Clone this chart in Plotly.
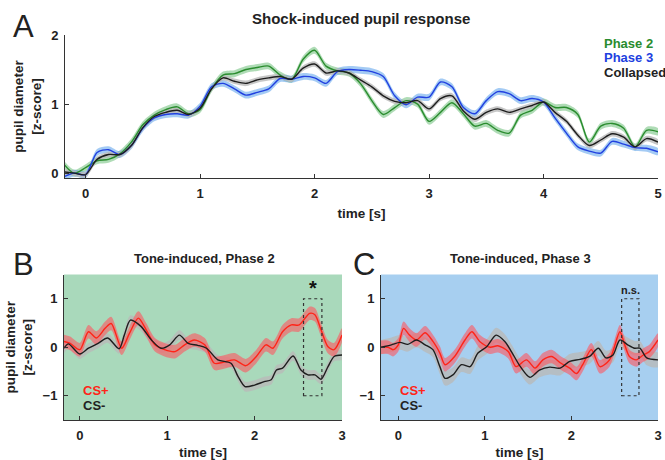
import plotly.graph_objects as go

W, H = 665, 460

# ---------------- Panel A data ----------------
time_a = [-0.2, -0.1, 0.0, 0.1, 0.2, 0.3, 0.4, 0.5, 0.6, 0.7, 0.8, 0.9, 1.0,
          1.1, 1.2, 1.3, 1.4, 1.5, 1.6, 1.7, 1.8, 1.9, 2.0, 2.1, 2.2, 2.3, 2.4,
          2.5, 2.6, 2.7, 2.8, 2.9, 3.0, 3.1, 3.2, 3.3, 3.4, 3.5, 3.6, 3.7, 3.8,
          3.9, 4.0, 4.1, 4.2, 4.3, 4.4, 4.5, 4.6, 4.7, 4.8, 4.9, 5.0]
phase2 = [0.15, 0.0, 0.08, 0.18, 0.2, 0.28, 0.45, 0.7, 0.84, 0.92, 0.96, 0.86, 0.92,
          1.22, 1.42, 1.44, 1.5, 1.53, 1.55, 1.42, 1.36, 1.65, 1.78, 1.55, 1.48, 1.45, 1.3,
          1.05, 0.85, 0.95, 1.05, 1.0, 0.75, 0.88, 1.02, 0.86, 0.68, 0.72, 0.62, 0.58, 0.84,
          0.91, 1.03, 0.95, 0.95, 0.85, 0.45, 0.68, 0.72, 0.65, 0.38, 0.62, 0.6]
phase3 = [-0.06, 0.0, -0.02, 0.3, 0.34, 0.27, 0.4, 0.65, 0.8, 0.85, 0.86, 0.84, 0.97,
          1.25, 1.3, 1.22, 1.13, 1.17, 1.22, 1.37, 1.36, 1.4, 1.38, 1.3, 1.47, 1.5, 1.49,
          1.47, 1.4, 1.12, 0.99, 1.1, 1.1, 1.32, 1.25, 0.95, 0.86, 1.05, 1.18, 1.15, 1.05,
          1.08, 1.03, 0.8, 0.58, 0.38, 0.32, 0.29, 0.46, 0.42, 0.37, 0.36, 0.31]
collapsed = [0.02, 0.0, -0.02, 0.2, 0.27, 0.27, 0.4, 0.66, 0.82, 0.88, 0.91, 0.85, 0.94,
             1.22, 1.38, 1.33, 1.3, 1.35, 1.38, 1.4, 1.36, 1.52, 1.58, 1.45, 1.48, 1.45, 1.35,
             1.25, 1.12, 1.04, 1.02, 1.05, 0.93, 1.08, 1.12, 0.9, 0.78, 0.88, 0.93, 0.88, 0.93,
             0.98, 1.03, 0.88, 0.75, 0.55, 0.4, 0.48, 0.57, 0.52, 0.38, 0.5, 0.45]
sem_phase2 = 0.05
sem_phase3 = 0.05
sem_collapsed = 0.04

# ---------------- Panel B data (Tone-induced, Phase 2) ----------------
b_csplus_t = [-0.18, -0.11, 0.0, 0.1, 0.19, 0.29, 0.36, 0.48, 0.57, 0.67, 0.76, 0.86,
              0.97, 1.09, 1.2, 1.31, 1.43, 1.54, 1.66, 1.77, 1.9, 2.02, 2.13, 2.21,
              2.32, 2.42, 2.51, 2.63, 2.69, 2.76, 2.84, 2.91, 3.0]
b_csplus_v = [0.12, 0.08, -0.05, 0.32, 0.19, 0.39, 0.49, -0.02, 0.29, 0.6, 0.36, 0.05,
              -0.05, -0.09, 0.05, 0.15, 0.05, -0.33, -0.3, -0.26, -0.38, -0.19, 0.05, -0.02,
              0.32, 0.46, 0.46, 0.7, 0.67, 0.36, 0.01, -0.05, 0.25]
b_csminus_t = [-0.18, -0.13, 0.0, 0.1, 0.21, 0.32, 0.45, 0.51, 0.58, 0.7, 0.82, 0.93,
               1.03, 1.14, 1.24, 1.35, 1.45, 1.58, 1.73, 1.81, 1.89, 2.0, 2.11, 2.19,
               2.25, 2.32, 2.44, 2.53, 2.61, 2.69, 2.76, 2.84, 2.91, 3.0]
b_csminus_v = [-0.02, 0.07, -0.14, -0.02, 0.08, 0.19, -0.03, 0.25, 0.56, 0.43, 0.15, -0.02,
               0.05, 0.25, 0.08, 0.04, -0.02, -0.26, -0.33, -0.6, -0.81, -0.78, -0.71, -0.67,
               -0.47, -0.43, -0.18, -0.47, -0.57, -0.57, -0.66, -0.4, -0.19, -0.16]
b_sem_csplus = 0.14
b_sem_csminus = 0.1
b_window = [2.56, 2.77]

# ---------------- Panel C data (Tone-induced, Phase 3) ----------------
c_csplus_t = [-0.2, -0.12, -0.06, 0.0, 0.06, 0.13, 0.21, 0.31, 0.4, 0.48, 0.54, 0.65,
              0.77, 0.85, 0.94, 1.06, 1.15, 1.27, 1.36, 1.48, 1.58, 1.67, 1.77, 1.88,
              1.98, 2.06, 2.13, 2.23, 2.33, 2.44, 2.56, 2.61, 2.67, 2.75, 2.83, 2.9, 3.0]
c_csplus_v = [0.0, 0.0, -0.05, 0.05, 0.39, 0.25, 0.15, 0.3, 0.12, -0.12, -0.36, -0.19,
              0.15, 0.32, 0.12, 0.0, 0.03, -0.09, -0.4, -0.26, -0.43, -0.26, -0.19, -0.33,
              -0.43, -0.54, -0.36, -0.05, -0.4, -0.26, 0.32, 0.08, -0.19, -0.26, -0.16, -0.09, 0.15]
c_csminus_t = [-0.2, -0.08, 0.02, 0.11, 0.21, 0.31, 0.4, 0.48, 0.54, 0.63, 0.73, 0.83,
               0.92, 1.02, 1.13, 1.23, 1.31, 1.41, 1.52, 1.63, 1.75, 1.87, 1.98, 2.1,
               2.21, 2.31, 2.4, 2.48, 2.56, 2.65, 2.73, 2.79, 2.87, 3.0]
c_csminus_v = [0.0, 0.05, 0.1, 0.06, 0.15, 0.05, -0.05, -0.4, -0.64, -0.57, -0.36, -0.4,
               -0.12, 0.01, 0.25, 0.12, -0.1, -0.4, -0.62, -0.47, -0.41, -0.43, -0.29, -0.25,
               -0.19, -0.02, -0.22, -0.16, 0.15, 0.05, -0.02, -0.02, -0.22, -0.26]
c_sem_csplus = 0.14
c_sem_csminus = 0.15
c_window = [2.58, 2.78]

# ---------------- Styles ----------------
FONT = "Liberation Sans, Arial, Helvetica, sans-serif"
GREEN, GREEN_BAND = "#2a8c2e", "rgba(95,185,110,0.5)"
BLUE, BLUE_BAND = "#2140e0", "rgba(90,160,235,0.55)"
BLACK, GRAY_BAND = "#1e1e1e", "rgba(185,185,185,0.8)"
RED, RED_BAND = "#ff2418", "rgba(255,85,95,0.6)"
BG_B, BG_C = "#a9d9bb", "#a7cff0"
AXC = "#333333"

fig = go.Figure()


def band(t, v, err, color, xa, ya):
    fig.add_trace(go.Scatter(
        x=list(t) + list(t)[::-1],
        y=[a + err for a in v] + [a - err for a in v][::-1],
        fill="toself", fillcolor=color, mode="lines",
        line=dict(width=0, shape="spline", smoothing=0.8),
        hoverinfo="skip", showlegend=False, xaxis=xa, yaxis=ya))


def line(t, v, color, xa, ya, width=1.4):
    fig.add_trace(go.Scatter(
        x=t, y=v, mode="lines",
        line=dict(color=color, width=width, shape="spline", smoothing=0.8),
        showlegend=False, xaxis=xa, yaxis=ya))


# Panel A
band(time_a, phase2, sem_phase2, GREEN_BAND, "x", "y")
band(time_a, phase3, sem_phase3, BLUE_BAND, "x", "y")
band(time_a, collapsed, sem_collapsed, GRAY_BAND, "x", "y")
line(time_a, phase2, GREEN, "x", "y")
line(time_a, phase3, BLUE, "x", "y")
line(time_a, collapsed, BLACK, "x", "y")

# Panel B
band(b_csminus_t, b_csminus_v, b_sem_csminus, GRAY_BAND, "x2", "y2")
band(b_csplus_t, b_csplus_v, b_sem_csplus, RED_BAND, "x2", "y2")
line(b_csplus_t, b_csplus_v, RED, "x2", "y2")
line(b_csminus_t, b_csminus_v, BLACK, "x2", "y2")

# Panel C
band(c_csminus_t, c_csminus_v, c_sem_csminus, GRAY_BAND, "x3", "y3")
band(c_csplus_t, c_csplus_v, c_sem_csplus, RED_BAND, "x3", "y3")
line(c_csplus_t, c_csplus_v, RED, "x3", "y3")
line(c_csminus_t, c_csminus_v, BLACK, "x3", "y3")


def px(x):
    return x / W


def py(y):
    return 1 - y / H


tickfont = dict(family=FONT, size=13, color="#222", weight="bold")
titlefont = dict(family=FONT, size=13.5, color="#222", weight="bold")
common = dict(showline=True, linecolor=AXC, linewidth=1, ticks="inside", ticklen=4,
              tickcolor=AXC, showgrid=False, zeroline=False, automargin=False,
              tickfont=tickfont, mirror=False)

fig.update_layout(
    width=W, height=H, margin=dict(l=0, r=0, t=0, b=0), autosize=False,
    template="none", paper_bgcolor="white", plot_bgcolor="rgba(0,0,0,0)",
    font=dict(family=FONT, color="#222"),
    xaxis=dict(domain=[px(65), px(658)], anchor="y", range=[-0.18, 5],
               tickvals=[0, 1, 2, 3, 4, 5], ticklabelstandoff=3,
               title=dict(text="time [s]", font=titlefont, standoff=8), **common),
    yaxis=dict(domain=[py(178), py(35)], anchor="x", range=[-0.07, 2],
               tickvals=[0, 1, 2], ticklabelstandoff=3,
               title=dict(text="pupil diameter<br>[z-score]", font=titlefont, standoff=6),
               **common),
    xaxis2=dict(domain=[px(64), px(342)], anchor="y2", range=[-0.18, 3],
                tickvals=[0, 1, 2, 3], ticklabelstandoff=3,
                title=dict(text="time [s]", font=titlefont, standoff=8), **common),
    yaxis2=dict(domain=[py(420), py(274.5)], anchor="x2", range=[-1.5, 1.5],
                tickvals=[-1, 0, 1], ticklabelstandoff=3,
                title=dict(text="pupil diameter<br>[z-score]", font=titlefont, standoff=6),
                **common),
    xaxis3=dict(domain=[px(381), px(658)], anchor="y3", range=[-0.2, 3],
                tickvals=[0, 1, 2, 3], ticklabelstandoff=3,
                title=dict(text="time [s]", font=titlefont, standoff=8), **common),
    yaxis3=dict(domain=[py(420), py(274.5)], anchor="x3", range=[-1.5, 1.5],
                tickvals=[-1, 0, 1], ticklabelstandoff=3, **common),
)

shapes = [
    dict(type="rect", xref="x2 domain", yref="y2 domain", x0=0, x1=1, y0=0, y1=1,
         fillcolor=BG_B, line=dict(width=0), layer="below"),
    dict(type="rect", xref="x3 domain", yref="y3 domain", x0=0, x1=1, y0=0, y1=1,
         fillcolor=BG_C, line=dict(width=0), layer="below"),
    dict(type="rect", xref="x2", yref="y2", x0=b_window[0], x1=b_window[1], y0=-1, y1=1,
         line=dict(color=AXC, width=1.2, dash="dot"), layer="above"),
    dict(type="rect", xref="x3", yref="y3", x0=c_window[0], x1=c_window[1], y0=-1, y1=1,
         line=dict(color=AXC, width=1.2, dash="dot"), layer="above"),
]
fig.update_layout(shapes=shapes)

ann = []


def text(x, y, s, size=13, color="#222", weight="bold", xanchor="center", yanchor="middle"):
    ann.append(dict(x=px(x), y=py(y), xref="paper", yref="paper", text=s, showarrow=False,
                    xanchor=xanchor, yanchor=yanchor,
                    font=dict(family=FONT, size=size, color=color, weight=weight)))


# Panel letters
text(11, 26, "A", size=31, weight="normal", xanchor="left")
text(11, 264, "B", size=31, weight="normal", xanchor="left")
text(351, 264, "C", size=31, weight="normal", xanchor="left")
# Titles
text(361, 18, "Shock-induced pupil response", size=15)
text(204, 258, "Tone-induced, Phase 2", size=13)
text(520, 258, "Tone-induced, Phase 3", size=13)
# Legend panel A
text(602, 43, "Phase 2", size=13, color=GREEN, xanchor="left")
text(602, 57, "Phase 3", size=13, color=BLUE, xanchor="left")
text(602, 72, "Collapsed", size=13, color="#222", xanchor="left")
# Legend panels B / C
text(81, 390, "CS+", size=13, color=RED, xanchor="left")
text(81, 405, "CS-", size=13, color="#222", xanchor="left")
text(398, 390, "CS+", size=13, color=RED, xanchor="left")
text(398, 405, "CS-", size=13, color="#222", xanchor="left")
# Significance markers
ann.append(dict(x=sum(b_window) / 2, y=1.0, xref="x2", yref="y2", text="*",
                showarrow=False, yanchor="bottom", yshift=-2,
                font=dict(family=FONT, size=20, color="#111", weight="bold")))
ann.append(dict(x=sum(c_window) / 2, y=1.0, xref="x3", yref="y3", text="n.s.",
                showarrow=False, yanchor="bottom", yshift=1,
                font=dict(family=FONT, size=11, color="#222", weight="bold")))
fig.update_layout(annotations=ann)

fig.write_html(
    "out.html",
    config={"displayModeBar": False},
    post_script="document.body.style.margin='0';document.body.style.padding='0';"
                "document.body.style.overflow='hidden';",
)
